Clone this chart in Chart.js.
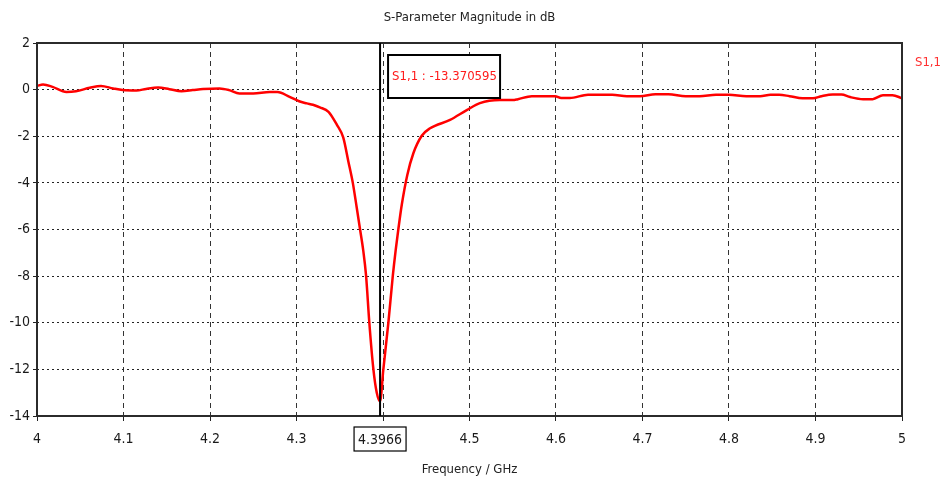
<!DOCTYPE html>
<html>
<head>
<meta charset="utf-8">
<script src="https://cdn.jsdelivr.net/npm/chart.js@4.4.1/dist/chart.umd.min.js"></script>
<style>
  html, body { margin: 0; padding: 0; background: #fff; }
  #wrap { width: 943px; height: 486px; position: relative; }
</style>
</head>
<body>
<div id="wrap"><canvas id="sChart"></canvas></div>
<script>
// S11 magnitude
const freqs = [
  4.000, 4.007, 4.018, 4.034, 4.045, 4.061, 4.074, 4.088, 4.099, 4.115,
  4.126, 4.140, 4.153, 4.167, 4.180, 4.192, 4.211, 4.222, 4.234, 4.250,
  4.269, 4.278, 4.292, 4.303, 4.312, 4.319, 4.327, 4.337, 4.3466, 4.354,
  4.360, 4.3651, 4.3697, 4.3735, 4.3773, 4.3804, 4.3842, 4.3889, 4.3928, 4.3966,
  4.4004, 4.4062, 4.4113, 4.4147, 4.4177, 4.4217, 4.4281, 4.4351, 4.4448, 4.4544,
  4.4775, 4.4968, 4.512, 4.535, 4.550, 4.556, 4.572, 4.599, 4.606, 4.616,
  4.637, 4.665, 4.682, 4.697, 4.715, 4.730, 4.750, 4.766, 4.785, 4.800,
  4.820, 4.836, 4.848, 4.858, 4.870, 4.885, 4.897, 4.907, 4.920, 4.930,
  4.940, 4.955, 4.966, 4.978, 4.989, 5.000
];
const s11 = [
  0.16, 0.22, 0.12, -0.10, -0.07, 0.08, 0.16, 0.05, -0.02, -0.04,
  0.03, 0.09, 0.02, -0.07, -0.02, 0.03, 0.05, -0.02, -0.17, -0.17,
  -0.10, -0.10, -0.31, -0.50, -0.59, -0.65, -0.76, -0.95, -1.50, -2.05,
  -3.09, -4.00, -5.08, -6.00, -6.94, -7.97, -10.0, -12.0, -13.0, -13.37,
  -12.0, -10.0, -8.00, -6.87, -6.00, -4.94, -3.66, -2.73, -1.98, -1.66,
  -1.30, -0.88, -0.58, -0.45, -0.45, -0.41, -0.28, -0.28, -0.36, -0.36,
  -0.22, -0.22, -0.28, -0.28, -0.20, -0.20, -0.28, -0.28, -0.22, -0.22,
  -0.28, -0.28, -0.22, -0.22, -0.28, -0.37, -0.37, -0.28, -0.21, -0.21,
  -0.32, -0.41, -0.41, -0.24, -0.24, -0.37
];
const xTicks = [4, 4.1, 4.2, 4.3, 4.4, 4.5, 4.6, 4.7, 4.8, 4.9, 5];
const yTicks = [2, 0, -2, -4, -6, -8, -10, -12, -14];
const markerFreq = 4.3966;
const markerValue = -13.370595;
const seriesName = "S1,1";

const FONT = "'Liberation Sans Narrow', 'DejaVu Sans Condensed', 'Liberation Sans', sans-serif";

const overlay = {
  id: "overlay",
  afterDatasetsDraw(chart) {
    const {ctx, chartArea: a, scales: {x}} = chart;
    const mx = x.getPixelForValue(markerFreq);
    ctx.save();
    // frame
    ctx.strokeStyle = "#2b2b2b";
    ctx.lineWidth = 2;
    ctx.strokeRect(a.left, a.top, a.right - a.left, a.bottom - a.top);
    // marker line
    ctx.strokeStyle = "#000";
    ctx.lineWidth = 2;
    ctx.beginPath();
    ctx.moveTo(mx, a.top);
    ctx.lineTo(mx, a.bottom);
    ctx.stroke();
    // marker readout box
    const bx = mx + 8, by = a.top + 12, bw = 112, bh = 43;
    ctx.fillStyle = "#fff";
    ctx.fillRect(bx, by, bw, bh);
    ctx.lineWidth = 2;
    ctx.strokeRect(bx, by, bw, bh);
    ctx.fillStyle = "#ff1a1a";
    ctx.font = "13px " + FONT;
    ctx.textBaseline = "middle";
    ctx.textAlign = "left";
    ctx.fillText(seriesName + " : " + markerValue, bx + 4, by + bh / 2);
    // marker x label box
    ctx.font = "14px " + FONT;
    ctx.textAlign = "center";
    ctx.fillStyle = "#1a1a1a";
    ctx.fillText(String(markerFreq), mx, a.bottom + 24);
    ctx.lineWidth = 1.2;
    ctx.strokeStyle = "#000";
    ctx.strokeRect(mx - 26, a.bottom + 11, 52, 24);
    // titles
    ctx.font = "13px " + FONT;
    ctx.fillStyle = "#222";
    ctx.fillText("S-Parameter Magnitude in dB", (a.left + a.right) / 2, 18);
    ctx.fillText("Frequency / GHz", (a.left + a.right) / 2, 470);
    // series label
    ctx.textAlign = "left";
    ctx.fillStyle = "#ff3030";
    ctx.fillText(seriesName, a.right + 13, a.top + 20);
    ctx.restore();
  }
};

new Chart(document.getElementById("sChart"), {
  type: "line",
  data: {
    datasets: [{
      label: seriesName,
      data: freqs.map((f, i) => ({x: f, y: s11[i]})),
      borderColor: "#ff0000",
      borderWidth: 2.5,
      pointRadius: 0,
      cubicInterpolationMode: "monotone",
      fill: false
    }]
  },
  options: {
    responsive: true,
    maintainAspectRatio: false,
    animation: false,
    layout: { padding: { top: 43, right: 41, left: 0, bottom: 0 } },
    plugins: { legend: { display: false }, title: { display: false }, tooltip: { enabled: false } },
    scales: {
      x: {
        type: "linear",
        min: 4, max: 5,
        afterFit: s => { s.height = 70; },
        afterBuildTicks: s => { s.ticks = xTicks.map(v => ({value: v})); },
        ticks: {
          color: "#1a1a1a",
          font: { family: FONT, size: 14 },
          padding: 10,
          maxRotation: 0,
          callback: v => (Math.abs(v - 4.4) < 1e-9 ? "" : String(+v.toFixed(1)))
        },
        grid: { color: "#333", lineWidth: 1, tickLength: 5, tickBorderDash: [], tickColor: "#222" },
        border: { display: false, dash: [5, 4] }
      },
      y: {
        min: -14, max: 2,
        afterFit: s => { s.width = 37; },
        afterBuildTicks: s => { s.ticks = yTicks.map(v => ({value: v})); },
        ticks: {
          color: "#1a1a1a",
          font: { family: FONT, size: 14 },
          padding: 3
        },
        grid: { color: "#222", lineWidth: 1, tickLength: 4, tickBorderDash: [], tickColor: "#222" },
        border: { display: false, dash: [2, 3] }
      }
    }
  },
  plugins: [overlay]
});
</script>
</body>
</html>
